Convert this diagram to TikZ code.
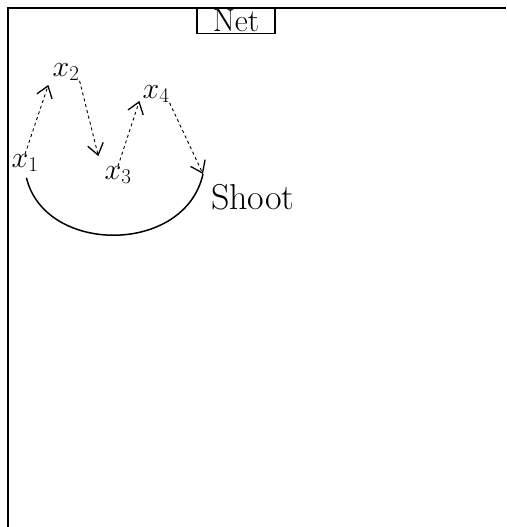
\RequirePackage{fix-cm}
\documentclass[tikz,border=0pt]{standalone}
\usetikzlibrary{arrows.meta,calc}
\begin{document}
\begin{tikzpicture}[x=1pt,y=-1pt,
  lbl/.style={inner sep=0pt,font=\fontsize{30}{32}\selectfont},
  dasharrow/.style={line width=0.9pt,dash pattern=on 3pt off 3pt,-{Straight Barb[length=11pt,width=16pt,line width=1.3pt]}},
  solidarc/.style={line width=1.5pt},
  frame/.style={line width=1.3pt}]
\useasboundingbox (0,0) rectangle (506,527);
\draw[frame] (8,527) -- (8,8) -- (506,8);
\node[inner sep=0pt,font=\fontsize{32}{34}\selectfont,draw,line width=1.2pt,minimum width=78pt,minimum height=25pt] (net) at (236,21) {Net};
\node[lbl] (x1) at (25,163) {$x_1$};
\node[lbl] (x2) at (66,72) {$x_2$};
\node[lbl] (x3) at (118,175) {$x_3$};
\node[lbl] (x4) at (156,94) {$x_4$};
\node[lbl,font=\fontsize{36}{38}\selectfont,anchor=west] (shoot) at (211,197) {Shoot};
\coordinate (sx) at (203,174);
\draw[dasharrow] (x1.north) -- ($(x2.south west)+(-4,4)$);
\draw[dasharrow] (x2.south east) -- ($(x3.north west)+(-6,-10)$);
\draw[dasharrow] (x3.north) -- ($(x4.south west)+(-3,-2)$);
\draw[dasharrow] (x4.south east) -- (sx);
\draw[solidarc,shorten <=6pt] (x1.south) .. controls (45,255) and (185,255) .. (sx);
\end{tikzpicture}
\end{document}
